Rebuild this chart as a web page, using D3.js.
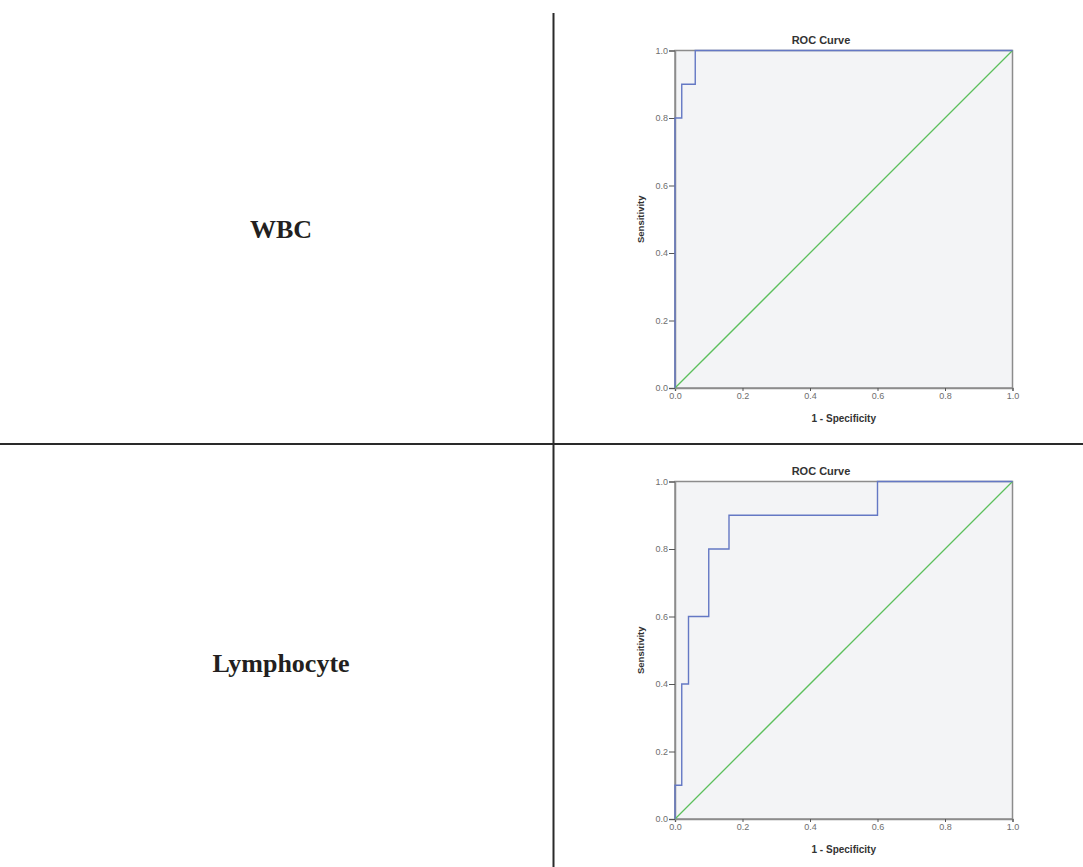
<!DOCTYPE html>
<html>
<head>
<meta charset="utf-8">
<script src="https://cdn.jsdelivr.net/npm/d3@7"></script>
<style>
	body { margin: 0; background: #fff; }
	svg { display: block; }
</style>
</head>
<body>
<svg id="chart" width="1083" height="867"></svg>
<script>
// Row labels of the table
const rowLabels = ["WBC", "Lymphocyte"];

// ROC points (1 - specificity, sensitivity), drawn as steps
const wbcFpr = [0, 0, 0.02, 0.06, 1];
const wbcTpr = [0, 0.8, 0.9, 1.0, 1];
const lymFpr = [0, 0, 0.02, 0.04, 0.1, 0.16, 0.6, 1];
const lymTpr = [0, 0.1, 0.4, 0.6, 0.8, 0.9, 1.0, 1];

// Reference diagonal
const diagFpr = [0, 1];
const diagTpr = [0, 1];

const tickValues = [0, 0.2, 0.4, 0.6, 0.8, 1.0];

const svg = d3.select("#chart");
const W = +svg.attr("width");
const H = +svg.attr("height");

// table grid lines
svg.append("line")
	.attr("x1", 553.5).attr("x2", 553.5)
	.attr("y1", 13).attr("y2", H)
	.attr("stroke", "#2a2a2a").attr("stroke-width", 2);
svg.append("line")
	.attr("x1", 0).attr("x2", W)
	.attr("y1", 444).attr("y2", 444)
	.attr("stroke", "#2a2a2a").attr("stroke-width", 2);

const panels = [
	{ label: rowLabels[0], labelY: 238, top: 50.5, fpr: wbcFpr, tpr: wbcTpr },
	{ label: rowLabels[1], labelY: 672, top: 481.5, fpr: lymFpr, tpr: lymTpr },
];

const plotLeft = 675;
const plotSize = 337.5;

panels.forEach((p) => {
	// row label
	svg.append("text")
		.attr("x", 281)
		.attr("y", p.labelY)
		.attr("text-anchor", "middle")
		.style("font-family", "'Liberation Serif', 'Times New Roman', serif")
		.style("font-weight", "bold")
		.style("font-size", "26px")
		.style("fill", "#231f20")
		.text(p.label);

	const x = d3.scaleLinear().domain([0, 1]).range([plotLeft, plotLeft + plotSize]);
	const y = d3.scaleLinear().domain([0, 1]).range([p.top + plotSize, p.top]);

	const g = svg.append("g");

	// plot background
	g.append("rect")
		.attr("x", x(0)).attr("y", y(1))
		.attr("width", x(1) - x(0)).attr("height", y(0) - y(1))
		.attr("fill", "#f3f4f6")
		.attr("stroke", "#8c8c8c")
		.attr("stroke-width", 1.5);

	// axes
	const xAxis = g.append("g")
		.attr("transform", `translate(0,${y(0)})`)
		.call(d3.axisBottom(x).tickValues(tickValues).tickFormat(d3.format(".1f")).tickSize(3).tickPadding(2));
	const yAxis = g.append("g")
		.attr("transform", `translate(${x(0)},0)`)
		.call(d3.axisLeft(y).tickValues(tickValues).tickFormat(d3.format(".1f")).tickSize(6).tickPadding(1));

	[xAxis, yAxis].forEach((a) => {
		a.select(".domain").attr("stroke", "#8c8c8c").attr("stroke-width", 1.5);
		a.selectAll(".tick line").attr("stroke", "#555");
		a.selectAll(".tick text")
			.style("font-family", "'Liberation Sans', Arial, sans-serif")
			.style("font-size", "9px")
			.style("fill", "#6e6e6e");
	});

	// title
	g.append("text")
		.attr("x", 821)
		.attr("y", p.top - 6.5)
		.attr("text-anchor", "middle")
		.style("font-family", "'Liberation Sans', Arial, sans-serif")
		.style("font-weight", "bold")
		.style("font-size", "11px")
		.style("fill", "#333")
		.text("ROC Curve");

	// axis labels
	g.append("text")
		.attr("x", x(0.5))
		.attr("y", y(0) + 34)
		.attr("text-anchor", "middle")
		.style("font-family", "'Liberation Sans', Arial, sans-serif")
		.style("font-weight", "bold")
		.style("font-size", "10px")
		.style("fill", "#333")
		.text("1 - Specificity");

	g.append("text")
		.attr("transform", `translate(${x(0) - 31},${y(0.5)}) rotate(-90)`)
		.attr("text-anchor", "middle")
		.style("font-family", "'Liberation Sans', Arial, sans-serif")
		.style("font-weight", "bold")
		.style("font-size", "9.5px")
		.style("fill", "#333")
		.text("Sensitivity");

	// diagonal
	const diag = diagFpr.map((d, i) => [d, diagTpr[i]]);
	g.append("path")
		.datum(diag)
		.attr("fill", "none")
		.attr("stroke", "#5cbf5c")
		.attr("stroke-width", 1.3)
		.attr("d", d3.line().x((d) => x(d[0])).y((d) => y(d[1])));

	// ROC curve
	const roc = p.fpr.map((d, i) => [d, p.tpr[i]]);
	g.append("path")
		.datum(roc)
		.attr("fill", "none")
		.attr("stroke", "#6478c4")
		.attr("stroke-width", 1.4)
		.attr("d", d3.line().curve(d3.curveStepAfter).x((d) => x(d[0])).y((d) => y(d[1])));
});
</script>
</body>
</html>
